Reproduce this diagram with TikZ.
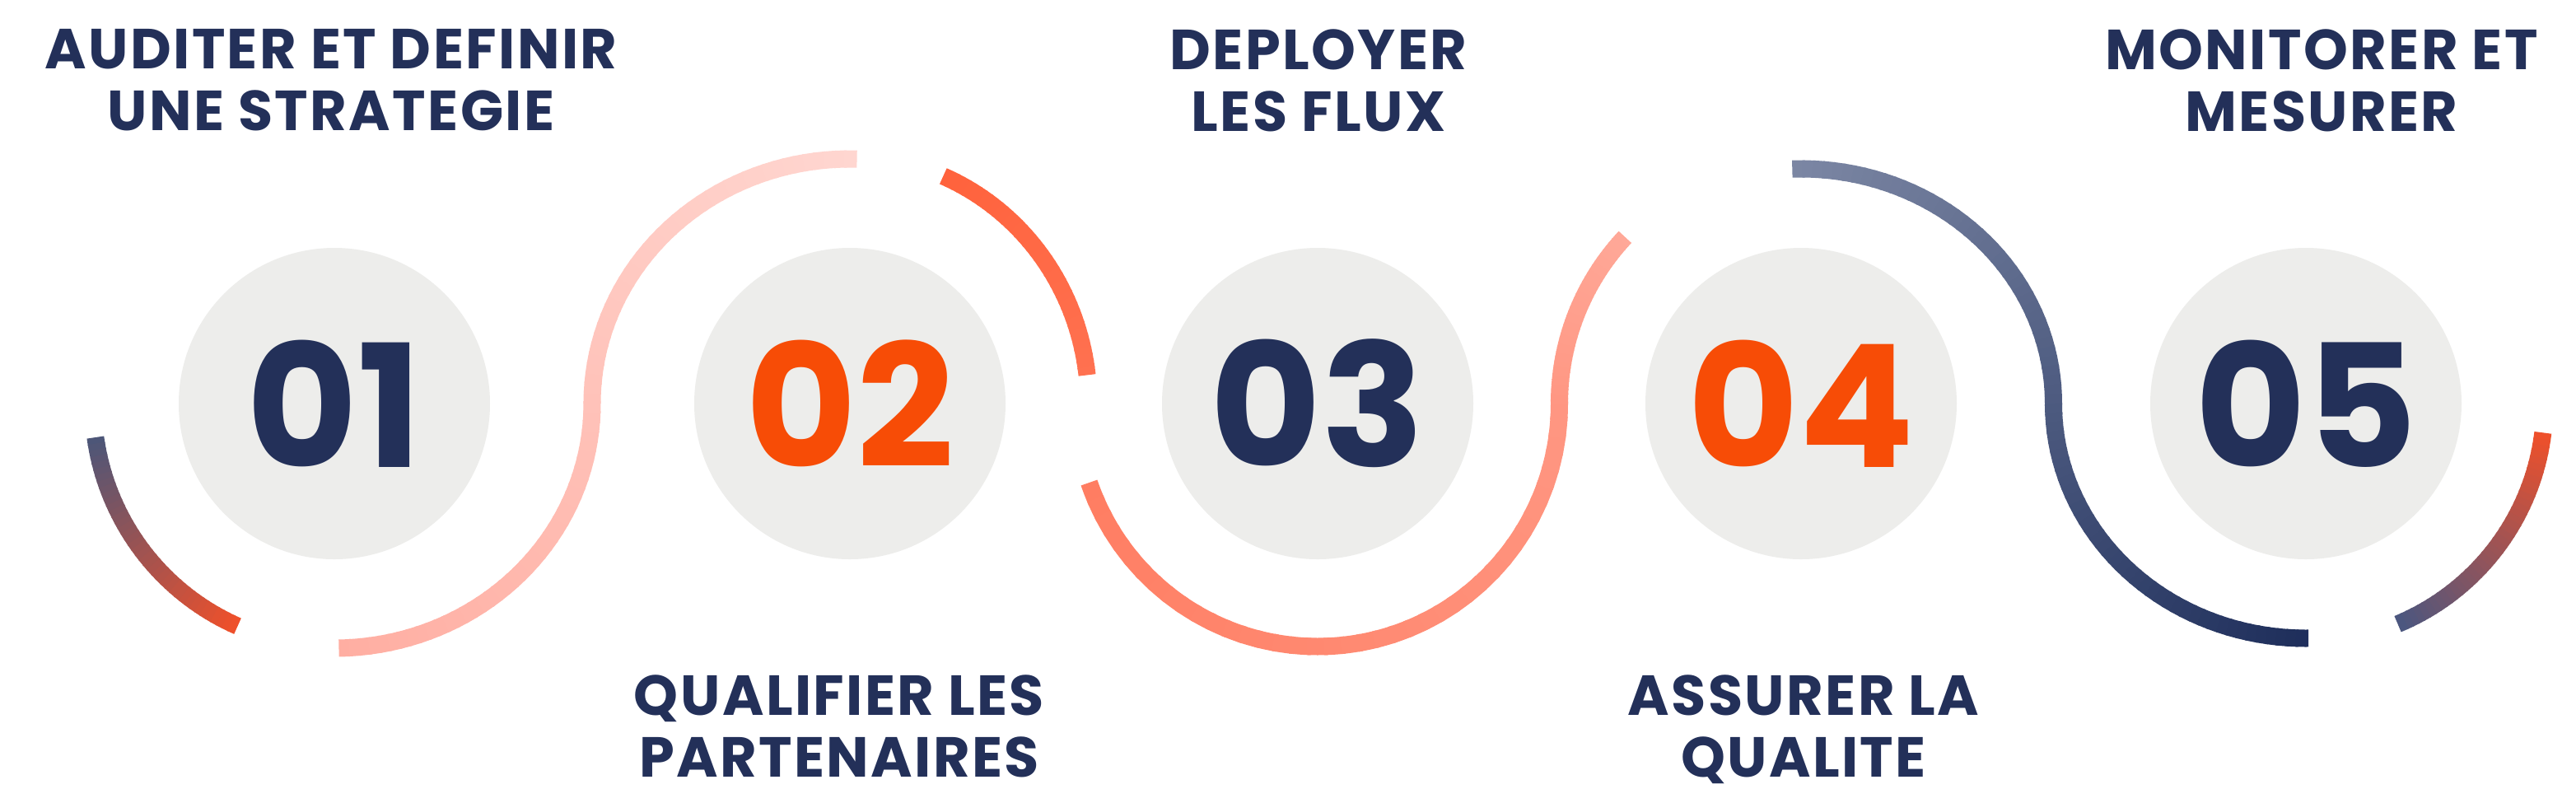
\documentclass[tikz,border=0pt]{standalone}
\usepackage{fontspec}
\setmainfont{Poppins}
\usetikzlibrary{calc}
\definecolor{navy}{HTML}{233059}
\definecolor{flame}{HTML}{F74C06}
\definecolor{disc}{HTML}{EDEDEB}
% swoosh colours, start -> end
\definecolor{dusk}{HTML}{4B5679}
\definecolor{ember}{HTML}{F0502A}
\definecolor{blushA}{HTML}{FFAEA2}
\definecolor{blushB}{HTML}{FFD6D0}
\definecolor{tangA}{HTML}{FF623C}
\definecolor{tangB}{HTML}{FF7150}
\definecolor{salmA}{HTML}{FF7D62}
\definecolor{salmB}{HTML}{FFA898}
\definecolor{slateA}{HTML}{7C87A4}
\definecolor{slateB}{HTML}{1E2E5B}
\definecolor{emberB}{HTML}{4A5780}
\tikzset{
  disc/.style={circle, fill=disc, minimum size=37.8mm, inner sep=0pt,
               font=\bfseries\fontsize{59}{59}\selectfont},
  numnavy/.style={disc, text=navy},
  numflame/.style={disc, text=flame},
  caption/.style={font=\bfseries\fontsize{19.5}{21.3}\selectfont\addfontfeatures{LetterSpace=3.5},
                  text=navy, align=center, inner sep=0pt, text depth=0pt},
  swoosh/.style={line width=2.1mm, line cap=butt},
}
% gradient arc: centre, x radius, y radius, from, to, colour A, colour B, % of B at start, % of B at end
\newcommand\swarc[9]{%
  \foreach \k in {0,...,39}{%
    \pgfmathsetmacro\ta{(#4)+((#5)-(#4))*\k/40}%
    \pgfmathsetmacro\tb{(#4)+((#5)-(#4))*(\k+1.25)/40}%
    \pgfmathsetmacro\pc{(#8)+((#9)-(#8))*(\k+0.5)/40}%
    \draw[swoosh, #7!\pc!#6] ($(#1)+(\ta:#2 and #3)$)
      arc[start angle=\ta, end angle=\tb, x radius=#2, y radius=#3];
  }%
}

\begin{document}
\begin{tikzpicture}[x=1cm, y=1cm]
  \useasboundingbox (0,0) rectangle (31.28,-9.57);
  \fill[white] (0,0) rectangle (31.28,-9.57);

  \node[numnavy]  (c1) at (4.06,-4.90)  {01};
  \node[numflame] (c2) at (10.32,-4.90) {02};
  \node[numnavy]  (c3) at (16.00,-4.90) {03};
  \node[numflame] (c4) at (21.87,-4.90) {04};
  \node[numnavy]  (c5) at (28.00,-4.90) {05};

  % swooshes round the discs
  \swarc{c1}{2.93}{2.95}{188}{246}{dusk}{ember}{0}{100}
  \swarc{c1}{3.13}{2.97}{271}{360}{blushA}{blushB}{0}{50}
  \swarc{c2}{3.13}{2.97}{180}{89}{blushA}{blushB}{50}{100}
  \swarc{c2}{2.90}{3.00}{67}{7}{tangA}{tangB}{0}{100}
  \swarc{c3}{2.935}{2.95}{199}{360}{salmA}{salmB}{0}{60}
  \swarc{c4}{2.935}{2.95}{180}{137}{salmA}{salmB}{60}{100}
  \swarc{c4}{3.065}{2.85}{92}{0}{slateA}{slateB}{0}{50}
  \swarc{c5}{3.065}{2.85}{180}{270}{slateA}{slateB}{50}{100}
  \swarc{c5}{2.90}{2.90}{-7}{-67}{ember}{emberB}{0}{100}

  \node[caption, anchor=north] (t1) at (4.02,-0.35)  {AUDITER ET DEFINIR\\UNE STRATEGIE};
  \node[caption, anchor=north] (t2) at (10.19,-8.19) {QUALIFIER LES\\PARTENAIRES};
  \node[caption, anchor=north] (t3) at (16.01,-0.35) {DEPLOYER\\LES FLUX};
  \node[caption, anchor=north] (t4) at (21.90,-8.19) {ASSURER LA\\QUALITE};
  \node[caption, anchor=north] (t5) at (28.19,-0.35) {MONITORER ET\\MESURER};

\end{tikzpicture}
\end{document}
